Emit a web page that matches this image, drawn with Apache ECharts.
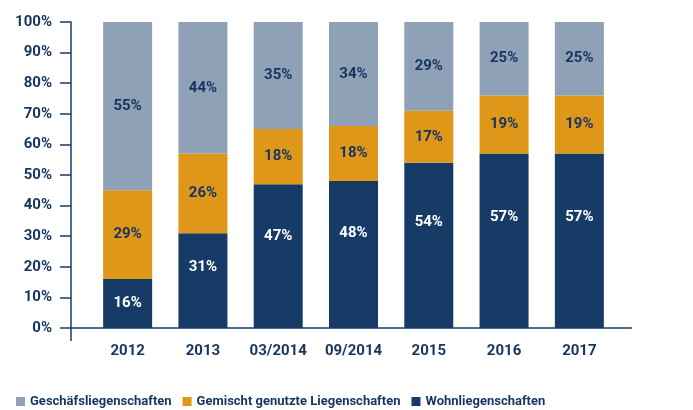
<!DOCTYPE html>
<html>
<head>
<meta charset="utf-8">
<script src="https://cdn.jsdelivr.net/npm/echarts@6/dist/echarts.min.js"></script>
<style>
  html, body { margin: 0; padding: 0; background: #fff; }
  #chart { width: 693px; height: 410px; }
</style>
</head>
<body>
<div id="chart"></div>
<script>
const categories = ['2012', '2013', '03/2014', '09/2014', '2015', '2016', '2017']
const wohn = [16, 31, 47, 48, 54, 57, 57]
const gemischt = [29, 26, 18, 18, 17, 19, 19]
const geschaeft = [55, 44, 35, 34, 29, 25, 25]
const yTicks = [0, 10, 20, 30, 40, 50, 60, 70, 80, 90, 100]

const navy = '#173b67'
const orange = '#df9719'
const gray = '#8ea1b7'
const ink = '#16355f'
const font = 'Roboto, sans-serif'

const gridTop = 22
const gridBottom = 82
const plotH = 410 - gridTop - gridBottom

const chart = echarts.init(document.getElementById('chart'))

function label(color) {
  return {
    show: true,
    position: 'inside',
    color,
    fontFamily: font,
    fontSize: 15,
    fontWeight: 'bold',
    formatter: (p) => `${p.value}%`,
  }
}

// navy labels sit a bit above the middle of their segment
const wohnData = wohn.map((v) => ({
  value: v,
  label: { offset: [0, v > 20 ? -Math.round(v / 100 * plotH * 0.14) : 0] },
}))

chart.setOption({
  animation: false,
  grid: { left: 90, right: 76, top: gridTop, bottom: gridBottom },
  legend: {
    left: 16,
    top: 395,
    padding: 0,
    itemWidth: 9,
    itemHeight: 9,
    itemGap: 11,
    icon: 'rect',
    textStyle: { color: ink, fontFamily: font, fontSize: 13, fontWeight: 'bold' },
    data: ['Geschäfsliegenschaften', 'Gemischt genutzte Liegenschaften', 'Wohnliegenschaften'],
  },
  xAxis: {
    type: 'category',
    data: categories,
    axisLine: { show: false },
    axisTick: { show: false },
    axisLabel: { interval: 0, color: ink, fontFamily: font, fontSize: 15, fontWeight: 'bold', margin: 16 },
  },
  yAxis: {
    type: 'value',
    min: yTicks[0],
    max: yTicks[yTicks.length - 1],
    interval: 10,
    offset: 19,
    axisLine: { show: true, lineStyle: { color: navy, width: 1.5 } },
    axisTick: { show: true, length: 11, lineStyle: { color: navy, width: 1.5 } },
    splitLine: { show: false },
    axisLabel: {
      color: ink, fontFamily: font, fontSize: 15, fontWeight: 'bold', margin: 19,
      formatter: (v) => `${v}%`,
    },
  },
  series: [
    { name: 'Wohnliegenschaften', type: 'bar', stack: 'a', barWidth: 49, data: wohnData, itemStyle: { color: navy }, label: label('#fff') },
    { name: 'Gemischt genutzte Liegenschaften', type: 'bar', stack: 'a', barWidth: 49, data: gemischt, itemStyle: { color: orange }, label: label(ink) },
    { name: 'Geschäfsliegenschaften', type: 'bar', stack: 'a', barWidth: 49, data: geschaeft, itemStyle: { color: gray }, label: label(ink) },
  ],
})

// baseline runs past the plot on both sides, y axis pokes below it
const y0 = chart.convertToPixel({ yAxisIndex: 0 }, 0)
chart.setOption({
  graphic: [
    { type: 'line', z: 10, shape: { x1: 71, y1: y0, x2: 632, y2: y0 }, style: { stroke: navy, lineWidth: 1.5 } },
    { type: 'line', z: 10, shape: { x1: 71, y1: y0, x2: 71, y2: y0 + 13 }, style: { stroke: navy, lineWidth: 1.5 } },
  ],
})
</script>
</body>
</html>
